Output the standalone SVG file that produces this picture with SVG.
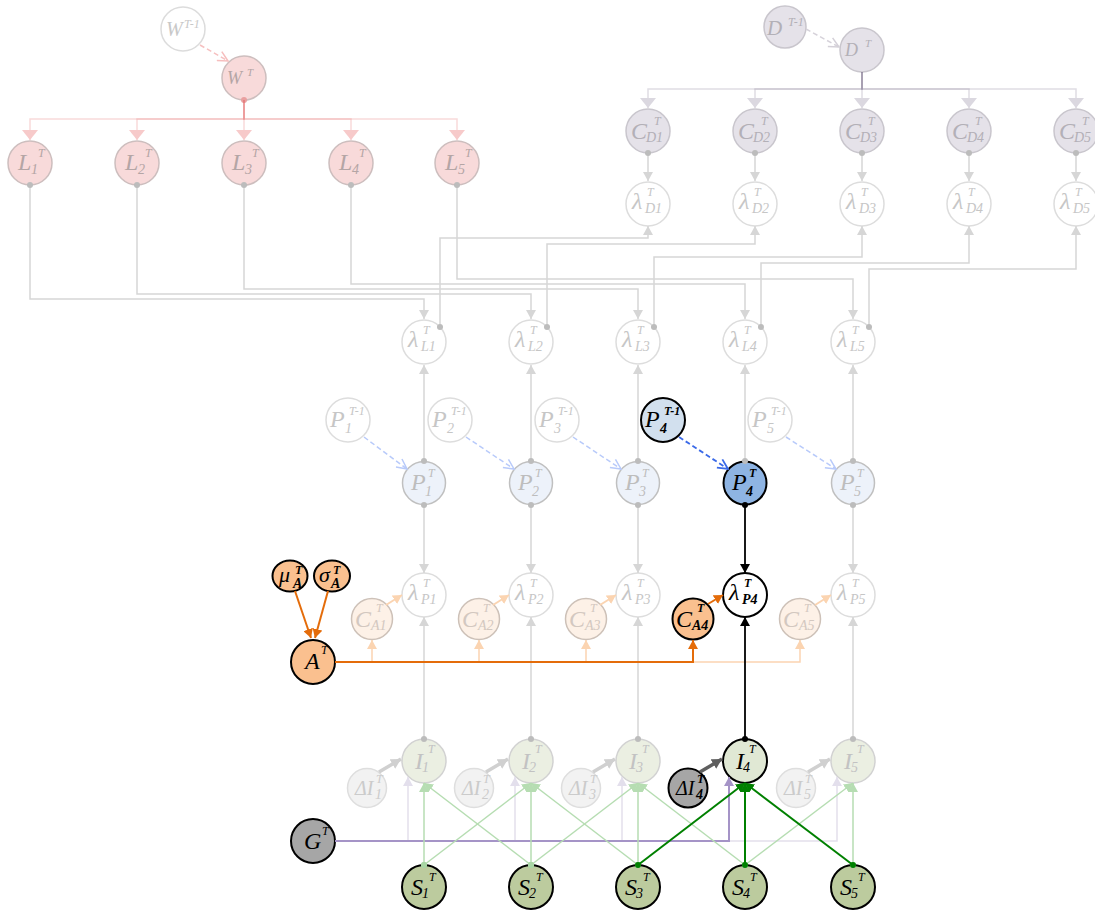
<svg xmlns="http://www.w3.org/2000/svg" width="1095" height="913" viewBox="0 0 1095 913">
<style>
.t{font-family:"Liberation Serif","DejaVu Serif",serif;font-style:italic}
.m{font-size:24px}.s{font-size:14px}.u{font-size:12px}.b{font-weight:bold}
.nd circle,.nd ellipse{stroke-width:1.5}
.fl circle{fill:#f8dada;stroke:#cdbebe}.fl text{fill:#b4a5a5}
.fw circle{fill:#fff;stroke:#dcdcdc}.fw text{fill:#c8c8c8}
.fd circle{fill:#e5e2e9;stroke:#c9c6cd}.fd text{fill:#b3b0b7}
.fx circle{fill:#fff;stroke:#dddddd}.fx text{fill:#c6c6c6}
.fp circle{fill:#edf2fa;stroke:#c0c0c0}.fp text{fill:#bdbdbd}
.fc circle{fill:#fdf1e7;stroke:#cdc1b8}.fc text{fill:#d3c8c0}
.fi circle{fill:#ebefe2;stroke:#d2d2d2}.fi text{fill:#c2c2c2}
.fdi circle{fill:#f2f2f2;stroke:#dedede}.fdi text{fill:#cbcbcb}
.hl circle,.hl ellipse{stroke:#000;stroke-width:2}.hl text{fill:#000}
.gl{stroke:#d6d6d6;stroke-width:1.5;fill:none}
</style>
<defs>
<marker id="dotG" viewBox="0 0 6 6" refX="3" refY="3" markerWidth="6" markerHeight="6" markerUnits="userSpaceOnUse"><circle cx="3" cy="3" r="3" fill="#bcbcbc"/></marker>
<marker id="dotR" viewBox="0 0 6 6" refX="3" refY="3" markerWidth="6" markerHeight="6" markerUnits="userSpaceOnUse"><circle cx="3" cy="3" r="3" fill="#e9a0a0"/></marker>
<marker id="dotK" viewBox="0 0 6 6" refX="3" refY="3" markerWidth="6" markerHeight="6" markerUnits="userSpaceOnUse"><circle cx="3" cy="3" r="3" fill="#000"/></marker>
<marker id="dotGr" viewBox="0 0 6 6" refX="3" refY="3" markerWidth="6" markerHeight="6" markerUnits="userSpaceOnUse"><circle cx="3" cy="3" r="3" fill="#008000"/></marker>
<marker id="dotGrl" viewBox="0 0 6 6" refX="3" refY="3" markerWidth="6" markerHeight="6" markerUnits="userSpaceOnUse"><circle cx="3" cy="3" r="3" fill="#a8d6a4"/></marker>
<marker id="triG" viewBox="0 0 9 10" refX="9" refY="5" markerWidth="9" markerHeight="10" markerUnits="userSpaceOnUse" orient="auto"><path d="M0,0L9,5L0,10z" fill="#d6d6d6"/></marker>
<marker id="triK" viewBox="0 0 9 10" refX="9" refY="5" markerWidth="9" markerHeight="10" markerUnits="userSpaceOnUse" orient="auto"><path d="M0,0L9,5L0,10z" fill="#000"/></marker>
<marker id="triO" viewBox="0 0 9 10" refX="9" refY="5" markerWidth="9" markerHeight="10" markerUnits="userSpaceOnUse" orient="auto"><path d="M0,0L9,5L0,10z" fill="#e46c0a"/></marker>
<marker id="triOl" viewBox="0 0 9 10" refX="9" refY="5" markerWidth="9" markerHeight="10" markerUnits="userSpaceOnUse" orient="auto"><path d="M0,0L9,5L0,10z" fill="#fbd4b1"/></marker>
<marker id="triGr" viewBox="0 0 9 10" refX="9" refY="5" markerWidth="9" markerHeight="10" markerUnits="userSpaceOnUse" orient="auto"><path d="M0,0L9,5L0,10z" fill="#008000"/></marker>
<marker id="triGrl" viewBox="0 0 9 10" refX="9" refY="5" markerWidth="9" markerHeight="10" markerUnits="userSpaceOnUse" orient="auto"><path d="M0,0L9,5L0,10z" fill="#b6ddb2"/></marker>
<marker id="triPu" viewBox="0 0 9 10" refX="9" refY="5" markerWidth="9" markerHeight="10" markerUnits="userSpaceOnUse" orient="auto"><path d="M0,0L9,5L0,10z" fill="#a594c7"/></marker>
<marker id="triPul" viewBox="0 0 9 10" refX="9" refY="5" markerWidth="9" markerHeight="10" markerUnits="userSpaceOnUse" orient="auto"><path d="M0,0L9,5L0,10z" fill="#e3dfec"/></marker>
<marker id="bigR" viewBox="0 0 10 16" refX="10" refY="8" markerWidth="10" markerHeight="16" markerUnits="userSpaceOnUse" orient="auto"><path d="M0,0L10,8L0,16z" fill="#f7caca"/></marker>
<marker id="bigD" viewBox="0 0 10 16" refX="10" refY="8" markerWidth="10" markerHeight="16" markerUnits="userSpaceOnUse" orient="auto"><path d="M0,0L10,8L0,16z" fill="#dbd8e0"/></marker>
<marker id="vR" viewBox="0 0 12 12" refX="11" refY="6" markerWidth="12" markerHeight="12" markerUnits="userSpaceOnUse" orient="auto"><path d="M1,1L11,6L1,11" fill="none" stroke="#f6bebe" stroke-width="1.5"/></marker>
<marker id="vD" viewBox="0 0 12 12" refX="11" refY="6" markerWidth="12" markerHeight="12" markerUnits="userSpaceOnUse" orient="auto"><path d="M1,1L11,6L1,11" fill="none" stroke="#d4d0d8" stroke-width="1.5"/></marker>
<marker id="vB" viewBox="0 0 12 12" refX="11" refY="6" markerWidth="12" markerHeight="12" markerUnits="userSpaceOnUse" orient="auto"><path d="M1,1L11,6L1,11" fill="none" stroke="#b8cafa" stroke-width="1.5"/></marker>
<marker id="vBk" viewBox="0 0 12 12" refX="11" refY="6" markerWidth="12" markerHeight="12" markerUnits="userSpaceOnUse" orient="auto"><path d="M1,1L11,6L1,11" fill="none" stroke="#3b6ae8" stroke-width="1.8"/></marker>
<marker id="thG" viewBox="0 0 10 11" refX="10" refY="5.5" markerWidth="10" markerHeight="11" markerUnits="userSpaceOnUse" orient="auto"><path d="M0,0L10,5.5L0,11z" fill="#d0d0d0"/></marker>
<marker id="thK" viewBox="0 0 10 11" refX="10" refY="5.5" markerWidth="10" markerHeight="11" markerUnits="userSpaceOnUse" orient="auto"><path d="M0,0L10,5.5L0,11z" fill="#5f5f5f"/></marker>
</defs>
<rect width="1095" height="913" fill="#fff"/>

<g id="nodes">
<g id="W_prev" class="nd fw"><circle cx="183" cy="29" r="22"/><text class="t"><tspan x="166" y="36" style="font-size:20px">W</tspan><tspan x="184" y="28" class="u">T-1</tspan></text></g>
<g id="W" class="nd fl"><circle cx="244" cy="78" r="22"/><text class="t"><tspan x="227" y="84" style="font-size:18px">W</tspan><tspan x="247" y="76" style="font-size:11px">T</tspan></text></g>
<g id="L1" class="nd fl"><circle cx="30" cy="163" r="22"/><text class="t"><tspan x="18" y="170" class="m">L</tspan><tspan x="38" y="157" class="u">T</tspan><tspan x="31" y="174" class="s">1</tspan></text></g>
<g id="L2" class="nd fl"><circle cx="137" cy="163" r="22"/><text class="t"><tspan x="125" y="170" class="m">L</tspan><tspan x="145" y="157" class="u">T</tspan><tspan x="138" y="174" class="s">2</tspan></text></g>
<g id="L3" class="nd fl"><circle cx="244" cy="163" r="22"/><text class="t"><tspan x="232" y="170" class="m">L</tspan><tspan x="252" y="157" class="u">T</tspan><tspan x="245" y="174" class="s">3</tspan></text></g>
<g id="L4" class="nd fl"><circle cx="351" cy="163" r="22"/><text class="t"><tspan x="339" y="170" class="m">L</tspan><tspan x="359" y="157" class="u">T</tspan><tspan x="352" y="174" class="s">4</tspan></text></g>
<g id="L5" class="nd fl"><circle cx="457" cy="163" r="22"/><text class="t"><tspan x="445" y="170" class="m">L</tspan><tspan x="465" y="157" class="u">T</tspan><tspan x="458" y="174" class="s">5</tspan></text></g>

<g id="D_prev" class="nd fd"><circle cx="785" cy="27" r="21"/><text class="t"><tspan x="767" y="35" style="font-size:21px">D</tspan><tspan x="788" y="26" class="u">T-1</tspan></text></g>
<g id="D" class="nd fd"><circle cx="862" cy="50" r="22"/><text class="t"><tspan x="845" y="56" style="font-size:18px">D</tspan><tspan x="865" y="47" style="font-size:11px">T</tspan></text></g>
<g id="CD1" class="nd fd"><circle cx="648" cy="131" r="22"/><text class="t"><tspan x="631" y="139" class="m">C</tspan><tspan x="654" y="125" class="u">T</tspan><tspan x="646" y="142" class="s">D1</tspan></text></g>
<g id="CD2" class="nd fd"><circle cx="755" cy="131" r="22"/><text class="t"><tspan x="738" y="139" class="m">C</tspan><tspan x="761" y="125" class="u">T</tspan><tspan x="753" y="142" class="s">D2</tspan></text></g>
<g id="CD3" class="nd fd"><circle cx="862" cy="131" r="22"/><text class="t"><tspan x="845" y="139" class="m">C</tspan><tspan x="868" y="125" class="u">T</tspan><tspan x="860" y="142" class="s">D3</tspan></text></g>
<g id="CD4" class="nd fd"><circle cx="969" cy="131" r="22"/><text class="t"><tspan x="952" y="139" class="m">C</tspan><tspan x="975" y="125" class="u">T</tspan><tspan x="967" y="142" class="s">D4</tspan></text></g>
<g id="CD5" class="nd fd"><circle cx="1076" cy="131" r="22"/><text class="t"><tspan x="1059" y="139" class="m">C</tspan><tspan x="1082" y="125" class="u">T</tspan><tspan x="1074" y="142" class="s">D5</tspan></text></g>
<g id="lamD1" class="nd fx"><circle cx="648" cy="204" r="22"/><text class="t"><tspan x="632" y="209" class="m">λ</tspan><tspan x="647" y="196" class="u">T</tspan><tspan x="645" y="213" class="s">D1</tspan></text></g>
<g id="lamD2" class="nd fx"><circle cx="755" cy="204" r="22"/><text class="t"><tspan x="739" y="209" class="m">λ</tspan><tspan x="754" y="196" class="u">T</tspan><tspan x="752" y="213" class="s">D2</tspan></text></g>
<g id="lamD3" class="nd fx"><circle cx="862" cy="204" r="22"/><text class="t"><tspan x="846" y="209" class="m">λ</tspan><tspan x="861" y="196" class="u">T</tspan><tspan x="859" y="213" class="s">D3</tspan></text></g>
<g id="lamD4" class="nd fx"><circle cx="969" cy="204" r="22"/><text class="t"><tspan x="953" y="209" class="m">λ</tspan><tspan x="968" y="196" class="u">T</tspan><tspan x="966" y="213" class="s">D4</tspan></text></g>
<g id="lamD5" class="nd fx"><circle cx="1076" cy="204" r="22"/><text class="t"><tspan x="1060" y="209" class="m">λ</tspan><tspan x="1075" y="196" class="u">T</tspan><tspan x="1073" y="213" class="s">D5</tspan></text></g>

<g id="lamL1" class="nd fx"><circle cx="424" cy="342" r="22"/><text class="t"><tspan x="408" y="347" class="m">λ</tspan><tspan x="423" y="334" class="u">T</tspan><tspan x="421" y="351" class="s">L1</tspan></text></g>
<g id="lamL2" class="nd fx"><circle cx="531" cy="342" r="22"/><text class="t"><tspan x="515" y="347" class="m">λ</tspan><tspan x="530" y="334" class="u">T</tspan><tspan x="528" y="351" class="s">L2</tspan></text></g>
<g id="lamL3" class="nd fx"><circle cx="638" cy="342" r="22"/><text class="t"><tspan x="622" y="347" class="m">λ</tspan><tspan x="637" y="334" class="u">T</tspan><tspan x="635" y="351" class="s">L3</tspan></text></g>
<g id="lamL4" class="nd fx"><circle cx="745" cy="342" r="22"/><text class="t"><tspan x="729" y="347" class="m">λ</tspan><tspan x="744" y="334" class="u">T</tspan><tspan x="742" y="351" class="s">L4</tspan></text></g>
<g id="lamL5" class="nd fx"><circle cx="853" cy="342" r="22"/><text class="t"><tspan x="837" y="347" class="m">λ</tspan><tspan x="852" y="334" class="u">T</tspan><tspan x="850" y="351" class="s">L5</tspan></text></g>

<g id="Pprev1" class="nd fx"><circle cx="348" cy="420" r="22"/><text class="t"><tspan x="330" y="427" class="m">P</tspan><tspan x="349" y="415" class="u">T-1</tspan><tspan x="345" y="433" class="s">1</tspan></text></g>
<g id="Pprev2" class="nd fx"><circle cx="450" cy="420" r="22"/><text class="t"><tspan x="432" y="427" class="m">P</tspan><tspan x="451" y="415" class="u">T-1</tspan><tspan x="447" y="433" class="s">2</tspan></text></g>
<g id="Pprev3" class="nd fx"><circle cx="557" cy="420" r="22"/><text class="t"><tspan x="539" y="427" class="m">P</tspan><tspan x="558" y="415" class="u">T-1</tspan><tspan x="554" y="433" class="s">3</tspan></text></g>
<g id="Pprev4" class="nd hl"><circle cx="663" cy="420" r="22" fill="#d2e0ee"/><text class="t"><tspan x="645" y="427" class="m">P</tspan><tspan x="664" y="415" class="u b">T-1</tspan><tspan x="660" y="433" class="s b">4</tspan></text></g>
<g id="Pprev5" class="nd fx"><circle cx="770" cy="420" r="22"/><text class="t"><tspan x="752" y="427" class="m">P</tspan><tspan x="771" y="415" class="u">T-1</tspan><tspan x="767" y="433" class="s">5</tspan></text></g>

<g id="P1" class="nd fp"><circle cx="424" cy="483" r="21.5"/><text class="t"><tspan x="411" y="490" class="m">P</tspan><tspan x="428" y="477" class="u">T</tspan><tspan x="425" y="496" class="s">1</tspan></text></g>
<g id="P2" class="nd fp"><circle cx="531" cy="483" r="21.5"/><text class="t"><tspan x="518" y="490" class="m">P</tspan><tspan x="535" y="477" class="u">T</tspan><tspan x="532" y="496" class="s">2</tspan></text></g>
<g id="P3" class="nd fp"><circle cx="638" cy="483" r="21.5"/><text class="t"><tspan x="625" y="490" class="m">P</tspan><tspan x="642" y="477" class="u">T</tspan><tspan x="639" y="496" class="s">3</tspan></text></g>
<g id="P4" class="nd hl"><circle cx="745" cy="483" r="21.5" fill="#8eb4e3"/><text class="t"><tspan x="732" y="490" class="m">P</tspan><tspan x="749" y="477" class="u b">T</tspan><tspan x="746" y="496" class="s b">4</tspan></text></g>
<g id="P5" class="nd fp"><circle cx="853" cy="483" r="21.5"/><text class="t"><tspan x="840" y="490" class="m">P</tspan><tspan x="857" y="477" class="u">T</tspan><tspan x="854" y="496" class="s">5</tspan></text></g>

<g id="lamP1" class="nd fx"><circle cx="424" cy="595" r="22"/><text class="t"><tspan x="408" y="600" class="m">λ</tspan><tspan x="423" y="587" class="u">T</tspan><tspan x="421" y="604" class="s">P1</tspan></text></g>
<g id="lamP2" class="nd fx"><circle cx="531" cy="595" r="22"/><text class="t"><tspan x="515" y="600" class="m">λ</tspan><tspan x="530" y="587" class="u">T</tspan><tspan x="528" y="604" class="s">P2</tspan></text></g>
<g id="lamP3" class="nd fx"><circle cx="638" cy="595" r="22"/><text class="t"><tspan x="622" y="600" class="m">λ</tspan><tspan x="637" y="587" class="u">T</tspan><tspan x="635" y="604" class="s">P3</tspan></text></g>
<g id="lamP4" class="nd hl"><circle cx="745" cy="595" r="22" fill="#fff"/><text class="t"><tspan x="729" y="600" class="m">λ</tspan><tspan x="744" y="587" class="u b">T</tspan><tspan x="742" y="604" class="s b">P4</tspan></text></g>
<g id="lamP5" class="nd fx"><circle cx="853" cy="595" r="22"/><text class="t"><tspan x="837" y="600" class="m">λ</tspan><tspan x="852" y="587" class="u">T</tspan><tspan x="850" y="604" class="s">P5</tspan></text></g>

<g id="CA1" class="nd fc"><circle cx="372" cy="619" r="20.5"/><text class="t"><tspan x="355" y="627" class="m">C</tspan><tspan x="376" y="612" class="u">T</tspan><tspan x="371" y="630" class="s">A1</tspan></text></g>
<g id="CA2" class="nd fc"><circle cx="479" cy="619" r="20.5"/><text class="t"><tspan x="462" y="627" class="m">C</tspan><tspan x="483" y="612" class="u">T</tspan><tspan x="478" y="630" class="s">A2</tspan></text></g>
<g id="CA3" class="nd fc"><circle cx="586" cy="619" r="20.5"/><text class="t"><tspan x="569" y="627" class="m">C</tspan><tspan x="590" y="612" class="u">T</tspan><tspan x="585" y="630" class="s">A3</tspan></text></g>
<g id="CA4" class="nd hl"><circle cx="693" cy="619" r="20.5" fill="#fac08f"/><text class="t"><tspan x="676" y="627" class="m">C</tspan><tspan x="697" y="612" class="u b">T</tspan><tspan x="692" y="630" class="s b">A4</tspan></text></g>
<g id="CA5" class="nd fc"><circle cx="800" cy="619" r="20.5"/><text class="t"><tspan x="783" y="627" class="m">C</tspan><tspan x="804" y="612" class="u">T</tspan><tspan x="799" y="630" class="s">A5</tspan></text></g>

<g id="muA" class="nd hl"><ellipse cx="290" cy="576" rx="17.5" ry="15.5" fill="#fac08f"/><text class="t"><tspan x="279" y="582" style="font-size:22px">μ</tspan><tspan x="295" y="574" class="u b">T</tspan><tspan x="293" y="588" class="s b">A</tspan></text></g>
<g id="sigmaA" class="nd hl"><ellipse cx="332" cy="576" rx="18" ry="15.5" fill="#fac08f"/><text class="t"><tspan x="319" y="582" style="font-size:22px">σ</tspan><tspan x="333" y="574" class="u b">T</tspan><tspan x="331" y="588" class="s b">A</tspan></text></g>
<g id="A" class="nd hl"><circle cx="313" cy="662" r="22" fill="#fac08f"/><text class="t"><tspan x="305" y="669" class="m">A</tspan><tspan x="321" y="654" class="u">T</tspan></text></g>

<g id="I1" class="nd fi"><circle cx="424" cy="761" r="22"/><text class="t"><tspan x="415" y="769" class="m">I</tspan><tspan x="428" y="753" class="u">T</tspan><tspan x="422" y="772" class="s">1</tspan></text></g>
<g id="I2" class="nd fi"><circle cx="531" cy="761" r="22"/><text class="t"><tspan x="522" y="769" class="m">I</tspan><tspan x="535" y="753" class="u">T</tspan><tspan x="529" y="772" class="s">2</tspan></text></g>
<g id="I3" class="nd fi"><circle cx="638" cy="761" r="22"/><text class="t"><tspan x="629" y="769" class="m">I</tspan><tspan x="642" y="753" class="u">T</tspan><tspan x="636" y="772" class="s">3</tspan></text></g>
<g id="I4" class="nd hl"><circle cx="745" cy="761" r="22" fill="#e0e8d4"/><text class="t"><tspan x="736" y="769" class="m">I</tspan><tspan x="749" y="753" class="u">T</tspan><tspan x="743" y="772" class="s">4</tspan></text></g>
<g id="I5" class="nd fi"><circle cx="853" cy="761" r="22"/><text class="t"><tspan x="844" y="769" class="m">I</tspan><tspan x="857" y="753" class="u">T</tspan><tspan x="851" y="772" class="s">5</tspan></text></g>

<g id="dI1" class="nd fdi"><circle cx="367" cy="788" r="19.5"/><text class="t"><tspan x="355" y="795" style="font-size:20px">ΔI</tspan><tspan x="376" y="783" class="u">T</tspan><tspan x="375" y="799" class="s">1</tspan></text></g>
<g id="dI2" class="nd fdi"><circle cx="474" cy="788" r="19.5"/><text class="t"><tspan x="462" y="795" style="font-size:20px">ΔI</tspan><tspan x="483" y="783" class="u">T</tspan><tspan x="482" y="799" class="s">2</tspan></text></g>
<g id="dI3" class="nd fdi"><circle cx="581" cy="788" r="19.5"/><text class="t"><tspan x="569" y="795" style="font-size:20px">ΔI</tspan><tspan x="590" y="783" class="u">T</tspan><tspan x="589" y="799" class="s">3</tspan></text></g>
<g id="dI4" class="nd hl"><circle cx="688" cy="788" r="19.5" fill="#a6a6a6"/><text class="t"><tspan x="676" y="795" style="font-size:20px">ΔI</tspan><tspan x="697" y="783" class="u b">T</tspan><tspan x="696" y="799" class="s b">4</tspan></text></g>
<g id="dI5" class="nd fdi"><circle cx="796" cy="788" r="19.5"/><text class="t"><tspan x="784" y="795" style="font-size:20px">ΔI</tspan><tspan x="805" y="783" class="u">T</tspan><tspan x="804" y="799" class="s">5</tspan></text></g>

<g id="G" class="nd hl"><circle cx="313" cy="841" r="22" fill="#a6a6a6"/><text class="t"><tspan x="304" y="849" class="m">G</tspan><tspan x="322" y="835" class="u">T</tspan></text></g>

<g id="S1" class="nd hl"><circle cx="424" cy="887" r="22" fill="#bccb9e"/><text class="t"><tspan x="411" y="895" class="m">S</tspan><tspan x="429" y="881" class="u">T</tspan><tspan x="422" y="898" class="s">1</tspan></text></g>
<g id="S2" class="nd hl"><circle cx="531" cy="887" r="22" fill="#bccb9e"/><text class="t"><tspan x="518" y="895" class="m">S</tspan><tspan x="536" y="881" class="u">T</tspan><tspan x="529" y="898" class="s">2</tspan></text></g>
<g id="S3" class="nd hl"><circle cx="638" cy="887" r="22" fill="#bccb9e"/><text class="t"><tspan x="625" y="895" class="m">S</tspan><tspan x="643" y="881" class="u">T</tspan><tspan x="636" y="898" class="s">3</tspan></text></g>
<g id="S4" class="nd hl"><circle cx="745" cy="887" r="22" fill="#bccb9e"/><text class="t"><tspan x="732" y="895" class="m">S</tspan><tspan x="750" y="881" class="u">T</tspan><tspan x="743" y="898" class="s">4</tspan></text></g>
<g id="S5" class="nd hl"><circle cx="853" cy="887" r="22" fill="#bccb9e"/><text class="t"><tspan x="840" y="895" class="m">S</tspan><tspan x="858" y="881" class="u">T</tspan><tspan x="851" y="898" class="s">5</tspan></text></g>
</g>

<g id="connectors" fill="none">
<path d="M200,45L228,61" stroke="#f6c0c0" stroke-width="1.5" stroke-dasharray="5,3" marker-end="url(#vR)"/>
<path d="M806,29L839,47" stroke="#d6d2da" stroke-width="1.5" stroke-dasharray="5,3" marker-end="url(#vD)"/>
<g stroke="#e86b6b" stroke-opacity="0.25" stroke-width="1.5">
<path d="M244,100V119H30V140" marker-end="url(#bigR)" marker-start="url(#dotR)"/>
<path d="M244,100V119H137V140" marker-end="url(#bigR)"/>
<path d="M244,100V140" marker-end="url(#bigR)"/>
<path d="M244,100V119H351V140" marker-end="url(#bigR)"/>
<path d="M244,100V119H457V140" marker-end="url(#bigR)"/>
</g>
<g stroke="#6e6485" stroke-opacity="0.22" stroke-width="1.5">
<path d="M862,72V89H648V108" marker-end="url(#bigD)"/>
<path d="M862,72V89H755V108" marker-end="url(#bigD)"/>
<path d="M862,72V108" marker-end="url(#bigD)"/>
<path d="M862,72V89H969V108" marker-end="url(#bigD)"/>
<path d="M862,72V89H1076V108" marker-end="url(#bigD)"/>
</g>
<g class="gl" marker-start="url(#dotG)" marker-end="url(#triG)">
<path d="M648,153V181"/><path d="M755,153V181"/><path d="M862,153V181"/><path d="M969,153V181"/><path d="M1076,153V181"/>
<path d="M30,185V299H424V319"/><path d="M137,185V294H531V319"/><path d="M244,185V289H638V319"/><path d="M351,185V284H745V319"/><path d="M457,185V279H853V319"/>
<path d="M440,327V238H648V226"/><path d="M547,327V244H755V226"/><path d="M654,327V257H862V226"/><path d="M761,327V263H969V226"/><path d="M869,327V269H1076V226"/>
<path d="M424,461V365"/><path d="M531,461V365"/><path d="M638,461V365"/><path d="M745,461V365"/><path d="M853,461V365"/>
<path d="M424,505V573"/><path d="M531,505V573"/><path d="M638,505V573"/><path d="M853,505V573"/>
<path d="M424,739V617"/><path d="M531,739V617"/><path d="M638,739V617"/><path d="M853,739V617"/>
</g>
<g stroke="#b8cafa" stroke-width="1.5" stroke-dasharray="5,3" marker-end="url(#vB)">
<path d="M364,437L407,469"/><path d="M466,437L514,469"/><path d="M573,437L621,469"/><path d="M786,437L836,469"/>
</g>
<path d="M679,437L728,469" stroke="#3b6ae8" stroke-width="1.8" stroke-dasharray="5,3" marker-end="url(#vBk)"/>
<g stroke="#fbd4b1" stroke-width="1.5" marker-end="url(#triOl)">
<path d="M335,662H372V640"/><path d="M335,662H479V640"/><path d="M335,662H586V640"/><path d="M335,662H800V640"/>
</g>
<g stroke="#fbd4b1" stroke-width="2" marker-end="url(#triOl)">
<path d="M386,605L402,595"/><path d="M493,605L509,595"/><path d="M600,605L616,595"/><path d="M815,605L831,595"/>
</g>
<g stroke="#e46c0a" stroke-width="2" marker-end="url(#triO)">
<path d="M335,662H693V640"/>
<path d="M708,604L723,595"/>
<path d="M295,591L311,638"/>
<path d="M328,591L315,638"/>
</g>
<path d="M745,505V573" stroke="#000" stroke-width="1.8" marker-start="url(#dotK)" marker-end="url(#triK)"/>
<path d="M745,739V617" stroke="#000" stroke-width="1.8" marker-start="url(#dotK)" marker-end="url(#triK)"/>
<g stroke="#d0d0d0" stroke-width="3.5" marker-end="url(#thG)">
<path d="M379,772L401,759"/><path d="M486,772L508,759"/><path d="M593,772L615,759"/><path d="M808,772L830,759"/>
</g>
<path d="M700,772L722,759" stroke="#5f5f5f" stroke-width="3.5" marker-end="url(#thK)"/>
<g stroke="#e3dfec" stroke-width="1.5" marker-end="url(#triPul)">
<path d="M335,841H408V777"/><path d="M335,841H515V777"/><path d="M335,841H622V777"/><path d="M335,841H837V777"/>
</g>
<path d="M335,841H729V777" stroke="#a594c7" stroke-width="2" marker-end="url(#triPu)"/>
<g stroke="#b6ddb2" stroke-width="1.5" marker-start="url(#dotGrl)" marker-end="url(#triGrl)">
<path d="M424,865L424,783"/><path d="M424,865L531,783"/>
<path d="M531,865L424,783"/><path d="M531,865L531,783"/><path d="M531,865L638,783"/>
<path d="M638,865L531,783"/><path d="M638,865L638,783"/>
<path d="M745,865L638,783"/><path d="M745,865L853,783"/>
<path d="M853,865L853,783"/>
</g>
<g stroke="#008000" stroke-width="2" marker-start="url(#dotGr)" marker-end="url(#triGr)">
<path d="M638,865L745,783"/><path d="M745,865L745,783"/><path d="M853,865L745,783"/>
</g>
</g>
</svg>
